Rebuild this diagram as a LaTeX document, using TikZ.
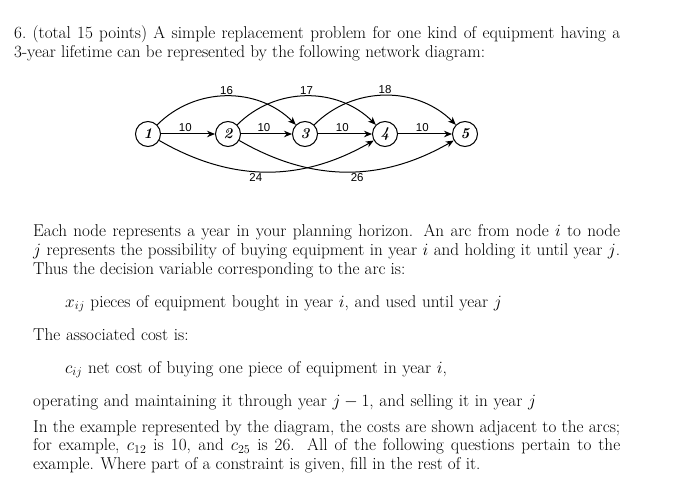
\documentclass[tikz,border=0pt]{standalone}
\usepackage{fontspec}
\newfontfamily\lab{Liberation Sans}
\usetikzlibrary{arrows.meta}
\begin{document}
\begin{tikzpicture}[x=1bp,y=-1bp,
  nd/.style={circle,draw,line width=1bp,minimum size=25bp,inner sep=0pt,font=\fontsize{15}{15}\selectfont\bfseries\itshape},
  arc/.style={line width=1bp,-{Stealth[length=8bp,width=6.5bp]}},
  lb/.style={font=\lab\fontsize{11.5}{11.5}\selectfont,inner sep=1.5bp},
  para/.style={anchor=north west,text width=587bp,align=justify,inner sep=0pt,font=\fontsize{17.2}{19}\selectfont}]
\useasboundingbox (0,0) rectangle (678,490);
\node[para,anchor=base west,text width=606bp] (p1) at (14,39) {\hangindent=19bp\hangafter=1 6.\ (total 15 points) A simple replacement problem for one kind of equipment having a 3-year lifetime can be represented by the following network diagram:};
\node[nd] (n1) at (148,134) {1};
\node[nd] (n2) at (228,134) {2};
\node[nd] (n3) at (305,134) {3};
\node[nd] (n4) at (385,134) {4};
\node[nd] (n5) at (465,134) {5};
\draw[arc] (n1) -- node[lb,above,pos=0.45]{10} (n2);
\draw[arc] (n2) -- node[lb,above,pos=0.45]{10} (n3);
\draw[arc] (n3) -- node[lb,above,pos=0.45]{10} (n4);
\draw[arc] (n4) -- node[lb,above,pos=0.45]{10} (n5);
\draw[arc] (n1) to[out=45,in=135] node[lb,above,pos=0.5]{16} (n3);
\draw[arc] (n2) to[out=45,in=135] node[lb,above,pos=0.5]{17} (n4);
\draw[arc] (n3) to[out=45,in=135] node[lb,above,pos=0.5]{18} (n5);
\draw[arc] (n1) to[out=-30,in=-150] node[lb,below,pos=0.45]{24} (n4);
\draw[arc] (n2) to[out=-30,in=-150] node[lb,below,pos=0.55]{26} (n5);
\node[para,anchor=base west] (p2) at (33,237) {Each node represents a year in your planning horizon. An arc from node $i$ to node $j$ represents the possibility of buying equipment in year $i$ and holding it until year $j$. Thus the decision variable corresponding to the arc is:};
\node[para,anchor=base west,text width=560bp,align=left] (p3) at (65,307) {$x_{ij}$ pieces of equipment bought in year $i$, and used until year $j$};
\node[para,anchor=base west,align=left] (p4) at (33,340) {The associated cost is:};
\node[para,anchor=base west,text width=560bp,align=left] (p5) at (65,373) {$c_{ij}$ net cost of buying one piece of equipment in year $i$,};
\node[para,anchor=base west,align=left] (p6) at (33,406) {operating and maintaining it through year $j-1$, and selling it in year $j$};
\node[para,anchor=base west] (p7) at (33,432) {In the example represented by the diagram, the costs are shown adjacent to the arcs; for example, $c_{12}$ is 10, and $c_{25}$ is 26. All of the following questions pertain to the example. Where part of a constraint is given, fill in the rest of it.};
\end{tikzpicture}
\end{document}
